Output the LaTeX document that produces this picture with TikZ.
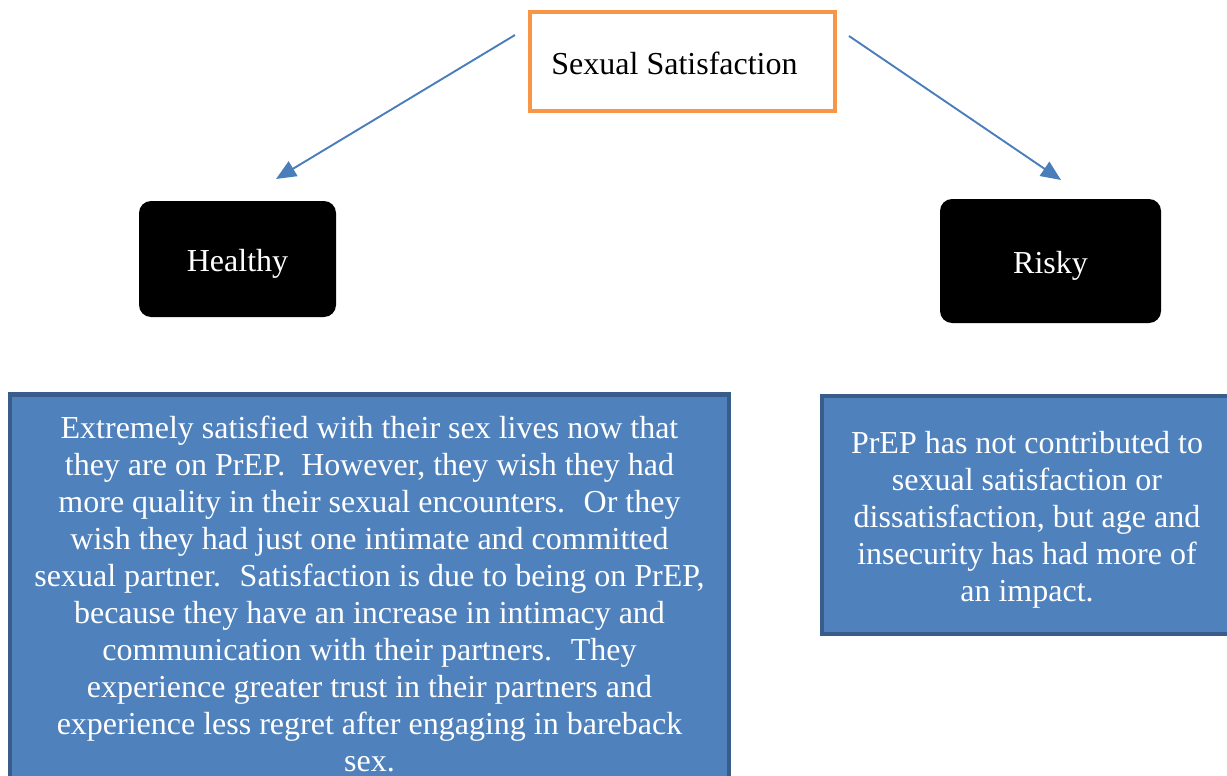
\documentclass[tikz,border=0pt]{standalone}
\usepackage{fontspec}
\setmainfont{Liberation Serif}
\usepackage{tikz}
\usetikzlibrary{arrows.meta,positioning}

\definecolor{boxorange}{HTML}{F79646}
\definecolor{boxblue}{HTML}{4F81BD}
\definecolor{boxedge}{HTML}{385D8A}
\definecolor{arrowblue}{HTML}{4A7EBB}

\begin{document}
\begin{tikzpicture}[x=1pt,y=-1pt,
    every node/.style={font=\fontsize{32}{37}\selectfont},
    topic/.style={draw=boxorange, line width=4pt, fill=white, minimum width=305, minimum height=99},
    kind/.style={fill=black, text=white, rounded corners=12pt},
    detail/.style={draw=boxedge, line width=4.5pt, fill=boxblue, text=white, align=center},
    link/.style={draw=arrowblue, line width=1.9pt, -{Triangle[length=20pt,width=17pt]}}]
          \useasboundingbox (0,0) rectangle (1227,776);
          \clip (0,0) rectangle (1227,776);
          \node[topic] (sat) at (682.5,61.5) {\raisebox{-2pt}[\height][\depth]{Sexual Satisfaction}\kern16pt};
          \node[kind, minimum width=197, minimum height=116] (healthy) at (237.5,259) {\raisebox{-5pt}[\height][\depth]{Healthy}};
          \node[kind, minimum width=221, minimum height=124] (risky) at (1050.5,261) {\raisebox{-5pt}[\height][\depth]{Risky}};
          \node[detail, minimum width=719, minimum height=399] (hdetail) at (369.5,594) {Extremely satisfied with their sex lives now that\\
            they are on PrEP.~ However, they wish they had\\
            more quality in their sexual encounters.~ Or they\\
            wish they had just one intimate and committed\\
            sexual partner.~ Satisfaction is due to being on PrEP,\\
            because they have an increase in intimacy and\\
            communication with their partners.~ They\\
            experience greater trust in their partners and\\
            experience less regret after engaging in bareback\\
            sex.};
          \node[detail, minimum width=410, minimum height=238] (rdetail) at (1027,515) {\rule{0pt}{32pt}PrEP has not contributed to\\
            sexual satisfaction or\\
            dissatisfaction, but age and\\
            insecurity has had more of\\
            an impact.};
          \coordinate (lstart) at (515,35);
          \coordinate (lend) at (276,179);
          \coordinate (rstart) at (849,36);
          \coordinate (rend) at (1061,180);
          \path[link] (lstart) -- (lend);
          \path[link] (rstart) -- (rend);
        \end{tikzpicture}
\end{document}
